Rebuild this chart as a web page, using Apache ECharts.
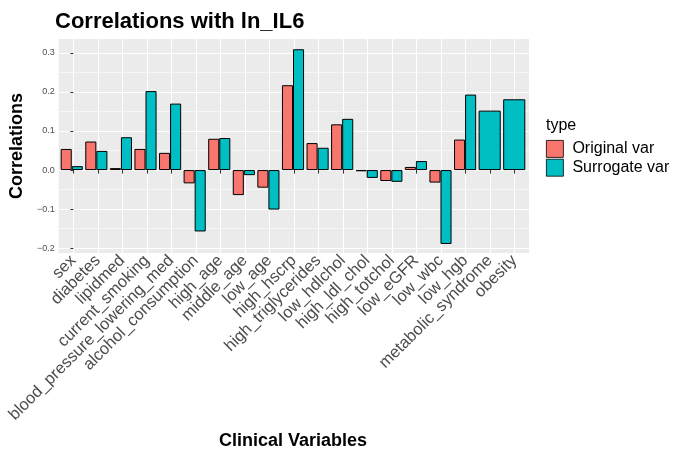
<!DOCTYPE html>
<html>
<head>
<meta charset="utf-8">
<script src="https://cdn.jsdelivr.net/npm/echarts@6/dist/echarts.min.js"></script>
<style>
  html, body { margin: 0; padding: 0; background: #fff; }
  #main { width: 675px; height: 452px; }
</style>
</head>
<body>
<div id="main"></div>
<script>
// 数据
const categories = ['sex', 'diabetes', 'lipidmed', 'current_smoking', 'blood_pressure_lowering_med',
    'alcohol_consumption', 'high_age', 'middle_age', 'low_age', 'high_hscrp', 'high_triglycerides',
    'low_hdlchol', 'high_ldl_chol', 'high_totchol', 'low_eGFR', 'low_wbc', 'low_hgb',
    'metabolic_syndrome', 'obesity'];
const originalVar = [0.054, 0.073, 0.005, 0.054, 0.044, -0.034, 0.080, -0.064, -0.045, 0.217,
    0.069, 0.117, -0.003, -0.028, 0.008, -0.032, 0.078, null, null];
const surrogateVar = [0.010, 0.049, 0.084, 0.202, 0.170, -0.157, 0.082, -0.013, -0.101, 0.309,
    0.057, 0.131, -0.020, -0.030, 0.023, -0.189, 0.193, 0.152, 0.181];
const majorTicks = [-0.2, -0.1, 0.0, 0.1, 0.2, 0.3];
const minorTicks = [-0.15, -0.05, 0.05, 0.15, 0.25];

// ggplot 的 position_dodge：只有一组时柱子占满整格
const surrogatePaired = surrogateVar.map((v, i) => originalVar[i] == null ? null : v);
const surrogateAlone = surrogateVar.map((v, i) => originalVar[i] == null ? v : null);
const catIndex = categories.map((c, i) => i);

const yMin = -0.2121, yMax = 0.3352;
const FONT = 'Liberation Sans, Arial, sans-serif';
const barBorder = { borderColor: '#000', borderWidth: 1 };

let myChart = echarts.init(document.getElementById('main'));
let option = {
    animation: false,
    title: {
        text: 'Correlations with ln_IL6',
        left: 55, top: 11, padding: 0,
        textStyle: { fontFamily: FONT, fontSize: 22, fontWeight: 'bold', color: '#000' }
    },
    legend: {
        data: ['Original var', 'Surrogate var'],
        orient: 'vertical',
        left: 546, top: 140, padding: 0,
        itemWidth: 17, itemHeight: 17, itemGap: 1,
        icon: 'rect',
        itemStyle: { borderWidth: 0.8, borderColor: '#000' },
        textStyle: { fontFamily: FONT, fontSize: 16, color: '#000', padding: [0, 0, 0, 4] }
    },
    graphic: [
        { type: 'text', style: { x: 546, y: 126, text: 'type', textVerticalAlign: 'middle',
            font: '16px ' + FONT, fill: '#000' } },
        { type: 'text', style: { x: 293, y: 441, text: 'Clinical Variables', textAlign: 'center',
            textVerticalAlign: 'middle', font: 'bold 18px ' + FONT, fill: '#000' } }
    ],
    grid: [
        // 灰色面板 + 网格线 + 坐标轴标签
        { left: 57, right: 146, top: 39, bottom: 199, show: true, backgroundColor: '#EBEBEB',
            borderWidth: 0, z: -1 },
        // 柱子（两侧各留 0.6 个单位，与 ggplot 的扩展一致）
        { left: 59.46, width: 467.08, top: 39, bottom: 199 }
    ],
    xAxis: [
        {
            gridIndex: 0, type: 'value', min: -0.6, max: 18.6,
            axisLine: { show: false },
            axisTick: { show: true, length: 3.5, lineStyle: { color: '#333' }, customValues: catIndex },
            axisLabel: { customValues: catIndex, rotate: 45, margin: 5,
                formatter: v => categories[Math.round(v)],
                fontFamily: FONT, fontSize: 16.5, color: '#4D4D4D' },
            splitLine: { show: true, lineStyle: { color: '#fff', width: 1.1 } }
        },
        { gridIndex: 1, type: 'category', data: categories, show: false },
        { gridIndex: 1, type: 'category', data: categories, show: false }
    ],
    yAxis: [
        {
            gridIndex: 0, type: 'value', min: yMin, max: yMax,
            name: 'Correlations', nameLocation: 'middle', nameGap: 28,
            nameTextStyle: { fontFamily: FONT, fontSize: 18, fontWeight: 'bold', color: '#000' },
            axisLine: { show: false },
            axisTick: { show: true, length: 3, lineStyle: { color: '#333' }, customValues: majorTicks },
            axisLabel: { customValues: majorTicks, formatter: v => v.toFixed(1).replace('-', '\u2212'),
                margin: 4, fontFamily: FONT, fontSize: 9, color: '#4D4D4D' },
            splitLine: { show: true, lineStyle: { color: '#fff', width: 1.1 } }
        },
        {
            gridIndex: 0, type: 'value', min: yMin, max: yMax,
            axisLine: { show: false },
            axisTick: { show: false, customValues: minorTicks },
            axisLabel: { show: false, customValues: minorTicks },
            splitLine: { show: true, lineStyle: { color: '#fff', width: 0.55 } }
        },
        { gridIndex: 1, type: 'value', min: yMin, max: yMax, show: false, splitLine: { show: false } }
    ],
    series: [
        {
            name: 'Original var', type: 'bar', xAxisIndex: 1, yAxisIndex: 2,
            data: originalVar, barGap: '0%', barCategoryGap: '10%',
            itemStyle: Object.assign({ color: '#F8766D' }, barBorder)
        },
        {
            name: 'Surrogate var', type: 'bar', xAxisIndex: 1, yAxisIndex: 2,
            data: surrogatePaired, barGap: '0%', barCategoryGap: '10%',
            itemStyle: Object.assign({ color: '#00BFC4' }, barBorder)
        },
        {
            name: 'Surrogate var', type: 'bar', xAxisIndex: 2, yAxisIndex: 2,
            data: surrogateAlone, barWidth: '90%',
            itemStyle: Object.assign({ color: '#00BFC4' }, barBorder)
        }
    ]
};
myChart.setOption(option);
</script>
</body>
</html>
